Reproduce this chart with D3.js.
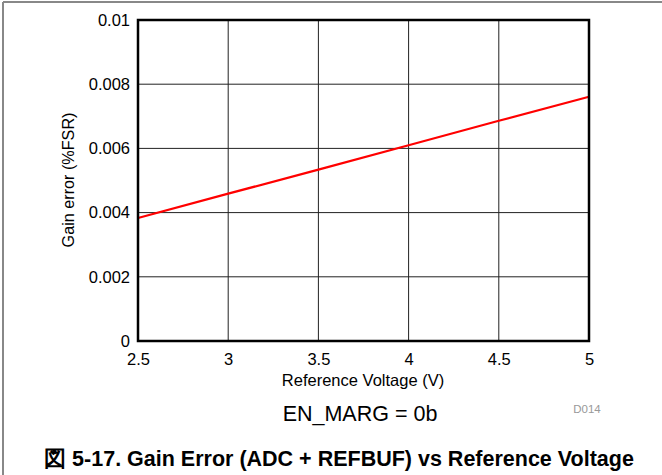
<!DOCTYPE html>
<html><head><meta charset="utf-8">
<script src="https://cdn.jsdelivr.net/npm/d3@7"></script>
<style>body{margin:0;background:#fff}svg{display:block;font-family:"Liberation Sans",Arial,sans-serif}</style>
</head><body>
<svg id="c" width="662" height="475"></svg>
<script>
const voltage = [2.5, 3, 3.5, 4, 4.5, 5];
const gainError = [0.00383, 0.00459, 0.00534, 0.00610, 0.00686, 0.00761];
const xTicks = [2.5, 3, 3.5, 4, 4.5, 5];
const yTicks = [0, 0.002, 0.004, 0.006, 0.008, 0.01];
const yTickLabels = ["0", "0.002", "0.004", "0.006", "0.008", "0.01"];

const svg = d3.select("#c");
const L = 138, R = 589, T = 20, B = 341;
const x = d3.scaleLinear().domain([2.5, 5]).range([L, R]);
const y = d3.scaleLinear().domain([0, 0.01]).range([B, T]);

// outer frame
svg.append("line").attr("x1", 3).attr("x2", 662).attr("y1", 2).attr("y2", 2).attr("stroke", "#888").attr("stroke-width", 2);
svg.append("line").attr("x1", 3).attr("x2", 3).attr("y1", 2).attr("y2", 475).attr("stroke", "#888").attr("stroke-width", 2);

// grid
svg.append("g").selectAll("line").data(xTicks).join("line")
  .attr("x1", d => x(d)).attr("x2", d => x(d)).attr("y1", T).attr("y2", B)
  .attr("stroke", "#222").attr("stroke-width", 1);
svg.append("g").selectAll("line").data(yTicks).join("line")
  .attr("y1", d => y(d)).attr("y2", d => y(d)).attr("x1", L).attr("x2", R)
  .attr("stroke", "#222").attr("stroke-width", 1);

// axes (labels only)
const xa = svg.append("g").attr("transform", `translate(0,${B})`)
  .call(d3.axisBottom(x).tickValues(xTicks).tickSize(0).tickPadding(12).tickFormat(d3.format("")));
xa.select(".domain").remove();
xa.selectAll("text").attr("font-size", 16.5).attr("fill", "#000").attr("font-family", "Liberation Sans, Arial, sans-serif");
const ya = svg.append("g").attr("transform", `translate(${L},0)`)
  .call(d3.axisLeft(y).tickValues(yTicks).tickSize(0).tickPadding(8).tickFormat((d, i) => yTickLabels[i]));
ya.select(".domain").remove();
ya.selectAll("text").attr("font-size", 16.5).attr("fill", "#000").attr("font-family", "Liberation Sans, Arial, sans-serif");

// line
svg.append("path").datum(voltage.map((v, i) => [v, gainError[i]]))
  .attr("fill", "none").attr("stroke", "#f00").attr("stroke-width", 2.2)
  .attr("d", d3.line().x(d => x(d[0])).y(d => y(d[1])));

// plot border
svg.append("rect").attr("x", L).attr("y", T).attr("width", R - L).attr("height", B - T)
  .attr("fill", "none").attr("stroke", "#000").attr("stroke-width", 2.5);

// labels
svg.append("text").attr("x", 363).attr("y", 386).attr("text-anchor", "middle").attr("font-size", 16.5).text("Reference Voltage (V)");
svg.append("text").attr("transform", "translate(74,180) rotate(-90)").attr("text-anchor", "middle").attr("font-size", 16.2).text("Gain error (%FSR)");
svg.append("text").attr("x", 587).attr("y", 413).attr("text-anchor", "middle").attr("font-size", 11.5).attr("fill", "#999").text("D014");
svg.append("text").attr("x", 360).attr("y", 421).attr("text-anchor", "middle").attr("font-size", 21.5).text("EN_MARG = 0b");
svg.append("text").attr("x", 339).attr("y", 466).attr("text-anchor", "middle").attr("font-size", 21.5).attr("font-weight", "bold")
  .text("図 5-17. Gain Error (ADC + REFBUF) vs Reference Voltage");
</script>
</body></html>
